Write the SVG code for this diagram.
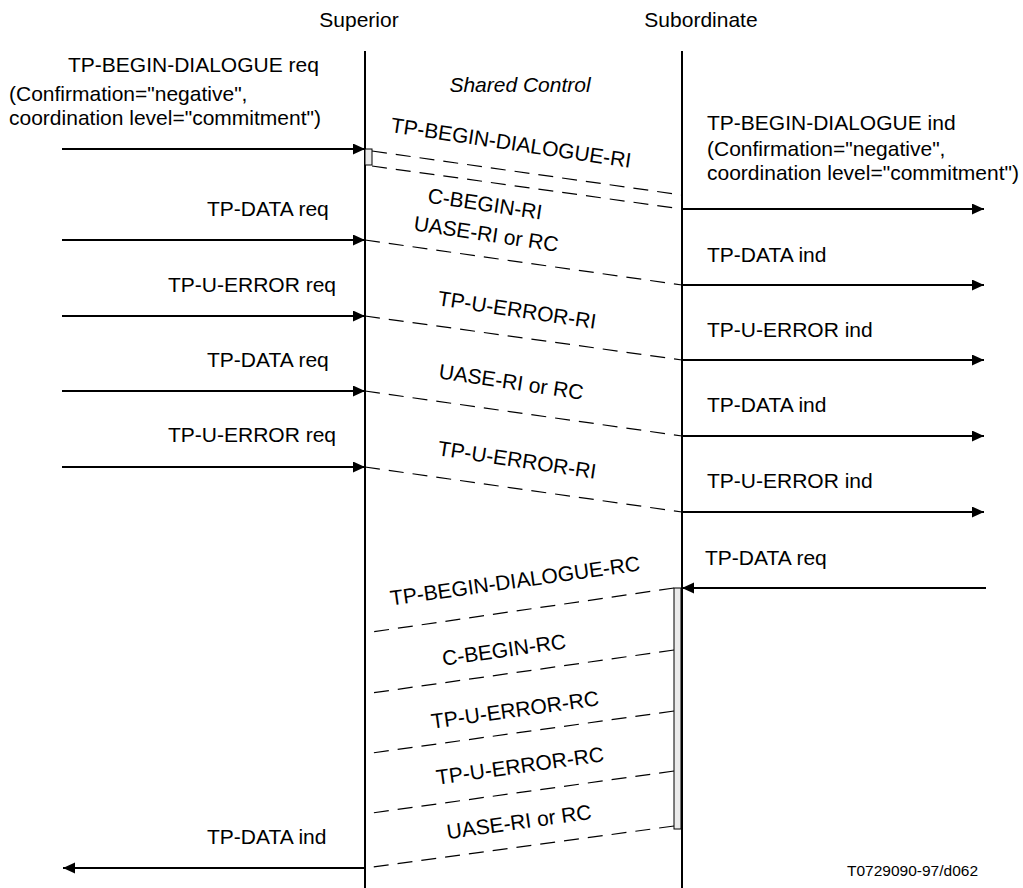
<svg xmlns="http://www.w3.org/2000/svg" width="1023" height="888" viewBox="0 0 1023 888">
<style>
text{font-family:"Liberation Sans",Arial,sans-serif;font-size:21px;fill:#000}
.it{font-style:italic}
.small{font-size:15.5px}
.life{stroke:#000;stroke-width:2;fill:none}
.arr{stroke:#000;stroke-width:2.2;fill:none;marker-end:url(#ah)}
.dash{stroke:#000;stroke-width:1.2;fill:none;stroke-dasharray:15 9}
.act{fill:#ebebeb;stroke:#000;stroke-width:1}
</style>
<defs>
<marker id="ah" markerUnits="userSpaceOnUse" markerWidth="13" markerHeight="12" refX="12" refY="5.5" orient="auto">
<path d="M0,0 L12,5.5 L0,11 z" fill="#000"/>
</marker>
</defs>
<rect width="1023" height="888" fill="#fff"/>

<g id="superior">
<text x="359" y="27" text-anchor="middle">Superior</text>
<line class="life" x1="365" y1="51" x2="365" y2="888"/>
<rect class="act" x="365" y="149" width="7" height="16"/>
</g>
<g id="subordinate">
<text x="701" y="27" text-anchor="middle">Subordinate</text>
<line class="life" x1="682" y1="51" x2="682" y2="888"/>
<rect class="act" x="674" y="588" width="7" height="241"/>
</g>
<g id="shared-control">
<text class="it" x="520" y="92" text-anchor="middle">Shared Control</text>
</g>

<g id="left-labels">
<text x="68" y="72">TP-BEGIN-DIALOGUE req</text>
<text x="9" y="101">(Confirmation="negative",</text>
<text x="9" y="125">coordination level="commitment")</text>
<text x="207" y="216">TP-DATA req</text>
<text x="168" y="292">TP-U-ERROR req</text>
<text x="207" y="367">TP-DATA req</text>
<text x="168" y="442">TP-U-ERROR req</text>
<text x="207" y="844">TP-DATA ind</text>
</g>

<g id="right-labels">
<text x="707" y="130">TP-BEGIN-DIALOGUE ind</text>
<text x="707" y="156">(Confirmation="negative",</text>
<text x="707" y="180">coordination level="commitment")</text>
<text x="707" y="262">TP-DATA ind</text>
<text x="707" y="337">TP-U-ERROR ind</text>
<text x="707" y="412">TP-DATA ind</text>
<text x="707" y="488">TP-U-ERROR ind</text>
<text x="705" y="565">TP-DATA req</text>
<text class="small" x="847" y="876">T0729090-97/d062</text>
</g>

<g id="connectors">
<line class="arr" x1="62" y1="149" x2="365" y2="149"/>
<line class="arr" x1="62" y1="240" x2="365" y2="240"/>
<line class="arr" x1="62" y1="316" x2="365" y2="316"/>
<line class="arr" x1="62" y1="391" x2="365" y2="391"/>
<line class="arr" x1="62" y1="467" x2="365" y2="467"/>
<line class="arr" x1="682" y1="209" x2="984" y2="209"/>
<line class="arr" x1="682" y1="285" x2="984" y2="285"/>
<line class="arr" x1="682" y1="360" x2="984" y2="360"/>
<line class="arr" x1="682" y1="436" x2="984" y2="436"/>
<line class="arr" x1="682" y1="512" x2="984" y2="512"/>
<line class="arr" x1="986" y1="588" x2="682" y2="588"/>
<line class="arr" x1="365" y1="868" x2="63" y2="868"/>

<line class="dash" x1="372" y1="151" x2="682" y2="195"/>
<line class="dash" x1="372" y1="166" x2="682" y2="209"/>
<line class="dash" x1="365" y1="240" x2="682" y2="285"/>
<line class="dash" x1="365" y1="316" x2="682" y2="360"/>
<line class="dash" x1="365" y1="391" x2="682" y2="436"/>
<line class="dash" x1="365" y1="467" x2="682" y2="512"/>
<line class="dash" x1="674" y1="588" x2="365" y2="633"/>
<line class="dash" x1="674" y1="650" x2="365" y2="694"/>
<line class="dash" x1="674" y1="711" x2="365" y2="754"/>
<line class="dash" x1="674" y1="771" x2="365" y2="814"/>
<line class="dash" x1="674" y1="826" x2="365" y2="868"/>

<g id="connector-labels" text-anchor="middle">
<text transform="translate(510,150) rotate(8.5)">TP-BEGIN-DIALOGUE-RI</text>
<text transform="translate(484,211) rotate(8.5)">C-BEGIN-RI</text>
<text transform="translate(485,241) rotate(8.5)">UASE-RI or RC</text>
<text transform="translate(516,317) rotate(8.5)">TP-U-ERROR-RI</text>
<text transform="translate(510,389) rotate(8.5)">UASE-RI or RC</text>
<text transform="translate(516,467) rotate(8.5)">TP-U-ERROR-RI</text>
<text transform="translate(516,588) rotate(-8)">TP-BEGIN-DIALOGUE-RC</text>
<text transform="translate(505,657) rotate(-8)">C-BEGIN-RC</text>
<text transform="translate(516,717) rotate(-8)">TP-U-ERROR-RC</text>
<text transform="translate(521,773) rotate(-8)">TP-U-ERROR-RC</text>
<text transform="translate(520,829) rotate(-8)">UASE-RI or RC</text>
</g>
</g>
</svg>
